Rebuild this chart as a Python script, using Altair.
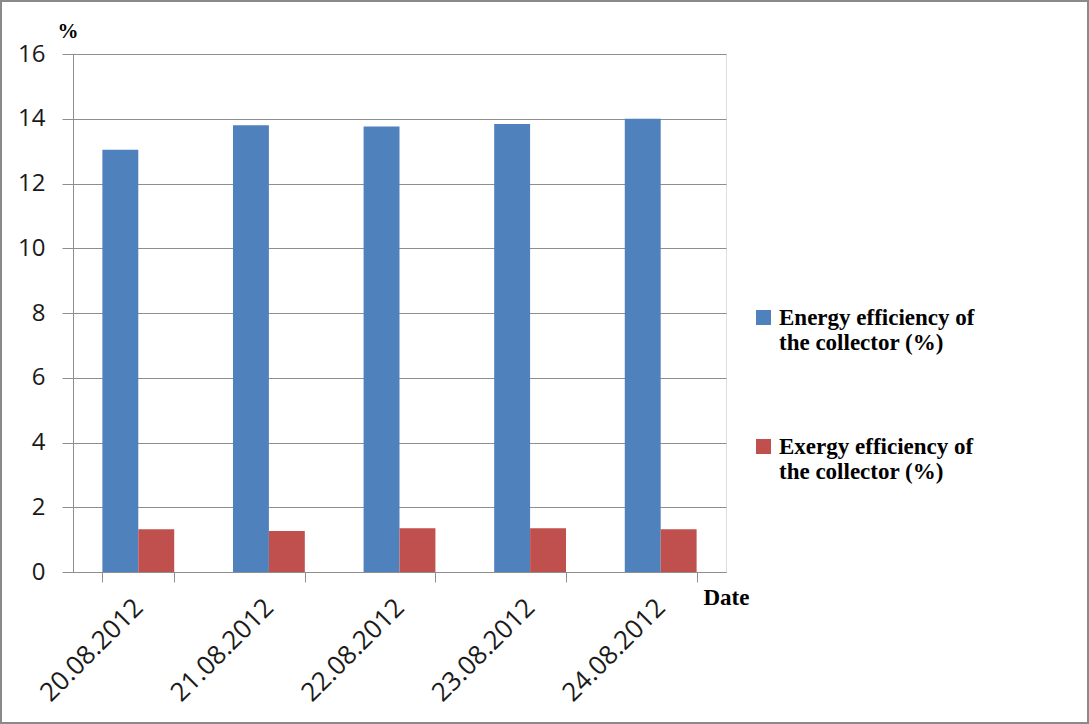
import altair as alt
import pandas as pd

dates = ["20.08.2012", "21.08.2012", "22.08.2012", "23.08.2012", "24.08.2012"]
energy = [13.04, 13.80, 13.76, 13.84, 14.00]
exergy = [1.32, 1.27, 1.35, 1.35, 1.32]
series = ["Energy efficiency of|the collector (%)", "Exergy efficiency of|the collector (%)"]
colors = ["#4F81BD", "#C0504D"]
y_ticks = [0, 2, 4, 6, 8, 10, 12, 14, 16]

rows = []
for d, e, x in zip(dates, energy, exergy):
    rows.append({"date": d, "series": series[0], "value": e})
    rows.append({"date": d, "series": series[1], "value": x})
df = pd.DataFrame(rows)

GRID = "#8e8e8e"

bars = alt.Chart(df).mark_bar().encode(
    x=alt.X("date:N", sort=dates,
            scale=alt.Scale(paddingInner=0.45, paddingOuter=0.225),
            axis=alt.Axis(title="Date", labelAngle=-45, labelAlign="right",
                          labelBaseline="middle", labelFont="Open Sans",
                          labelFontSize=26, labelColor="#1a1a1a",
                          tickBand="extent", tickSize=10, tickColor=GRID,
                          domainColor=GRID, labelPadding=21, grid=False,
                          titleX=630, titleY=25, titleAlign="left",
                          titleBaseline="middle", titleFont="Liberation Serif",
                          titleFontWeight="bold", titleFontSize=23,
                          titleColor="#000000")),
    xOffset=alt.XOffset("series:N", sort=series, scale=alt.Scale(paddingInner=0)),
    y=alt.Y("value:Q", scale=alt.Scale(domain=[0, 16], nice=False),
            axis=alt.Axis(title="%", titleAngle=0, titleX=-16, titleY=-23,
                          titleAlign="left", titleBaseline="middle",
                          titleFont="Liberation Serif", titleFontWeight="bold",
                          titleFontSize=21, titleColor="#000000",
                          values=y_ticks, tickSize=11, tickColor=GRID,
                          domainColor=GRID, gridColor=GRID, grid=True,
                          labelPadding=17, labelFont="Open Sans",
                          labelFontSize=24, labelColor="#1a1a1a")),
    color=alt.Color("series:N", sort=series,
                    scale=alt.Scale(domain=series, range=colors),
                    legend=alt.Legend(orient="none", legendX=679, legendY=252,
                                      title=None, symbolType="square",
                                      symbolSize=225, symbolStrokeWidth=0,
                                      labelFont="Liberation Serif",
                                      labelFontWeight="bold", labelFontSize=23,
                                      labelColor="#000000", labelLimit=0,
                                      labelExpr="split(datum.label, '|')",
                                      labelBaseline="middle", labelOffset=4,
                                      rowPadding=80)),
)

border = alt.Chart(alt.Data(values=[{"a": 1}])).mark_rect(
    fill=None, stroke="#8a8a8a", strokeWidth=2
).encode(x=alt.value(-72), x2=alt.value(1015), y=alt.value(-53), y2=alt.value(669))

chart = alt.layer(bars, border).properties(
    width=653, height=518,
    autosize=alt.AutoSizeParams(type="none"),
    padding={"left": 73, "top": 54, "right": 363, "bottom": 152},
).configure_view(stroke=None).configure(background="white")

chart.save("out.html", embed_options={"renderer": "svg", "actions": False})
